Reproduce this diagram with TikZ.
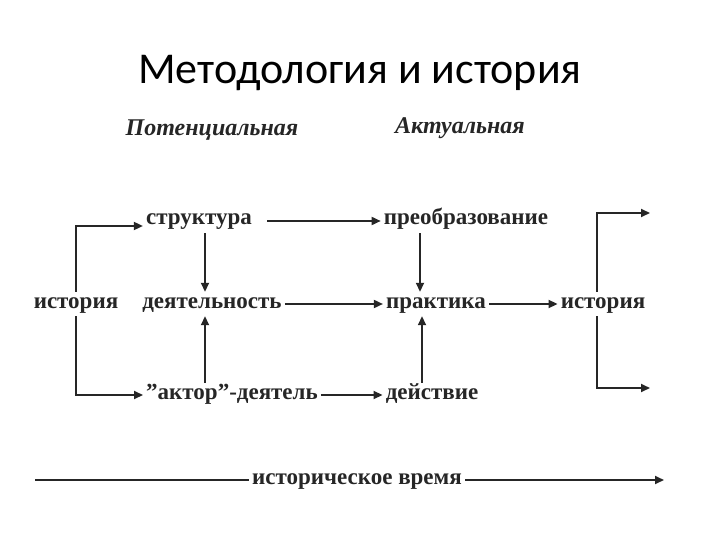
\documentclass[tikz,border=0pt]{standalone}
\usepackage{fontspec}
\setmainfont{Liberation Serif}
\newfontfamily\titlefont{Carlito}
\usetikzlibrary{arrows.meta}
\definecolor{ink}{HTML}{262626}
\tikzset{
  lbl/.style={text=ink,font=\fontsize{23}{26}\selectfont\bfseries,inner sep=3pt,text height=13pt,text depth=5pt},
  head/.style={text=ink,font=\fontsize{24}{28}\selectfont\bfseries\itshape},
  conn/.style={draw=ink,line width=1.7pt},
  arr/.style={conn,-{Triangle[length=9pt,width=8pt]}}
}
\begin{document}
\begin{tikzpicture}[x=1pt,y=-1pt]
\useasboundingbox[fill=white] (0,0) rectangle (720,540);
\node[font=\fontsize{44}{50}\selectfont\titlefont] (title) at (360,73) {Методология и история};
\node[head] (pot) at (212,130) {Потенциальная};
\node[head] (akt) at (460,128) {Актуальная};
% row 1
\node[lbl] (str) at (199,221) {структура};
\node[lbl] (pre) at (466,221) {преобразование};
% row 2
\node[lbl] (hl) at (76,304) {история};
\node[lbl] (dey) at (212,304) {деятельность};
\node[lbl] (pra) at (436,304) {практика};
\node[lbl] (hr) at (603,304) {история};
% row 3
\node[lbl] (akr) at (232,395) {{\char"22}актор{\char"22}-деятель};
\node[lbl] (dst) at (432,395) {действие};
% time
\node[lbl] (time) at (357,480) {историческое время};
\coordinate (tl) at (35,480);
\coordinate (tr) at (664,480);
\coordinate (o1) at (650,213);
\coordinate (o2) at (650,388);
% connectors
\draw[arr] ([xshift=12pt]str.east) -- (pre);
\draw[arr] (dey) -- (pra);
\draw[arr] (pra) -- (hr);
\draw[arr] (akr) -- (dst);
\draw[arr] ([xshift=6pt]str.south) -- ([xshift=-7pt]dey.north);
\draw[arr] ([xshift=-46pt]pre.south) -- ([xshift=-46pt]pre.south |- pra.north);
\draw[arr] ([xshift=-27pt]akr.north) -- ([xshift=-27pt]akr.north |- dey.south);
\draw[arr] ([xshift=-10pt]dst.north) -- ([xshift=-10pt]dst.north |- pra.south);
\draw[arr] (hl.north) |- ([yshift=-5pt]str.west);
\draw[arr] (hl.south) |- (akr.west);
\draw[arr] ([xshift=-6pt]hr.north) |- (o1);
\draw[arr] ([xshift=-6pt]hr.south) |- (o2);
\draw[conn] (tl) -- (time);
\draw[arr] (time) -- (tr);
\end{tikzpicture}
\end{document}
